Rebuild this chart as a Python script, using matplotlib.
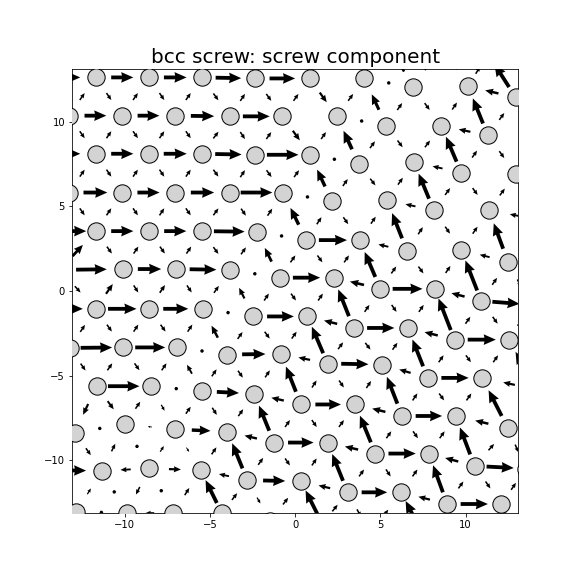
import numpy as np
import matplotlib.pyplot as plt

# Atom rows from top to bottom (row 0 sits above the frame).
# Rows 1, 3, 5 ... start half a spacing further left, so their index 0 atom is outside the frame.
atom_x = [
    [-13.29, -10.18, -7.06, -3.82, -0.76, 2.47, 5.47, 8.59, 11.31, 14.41],
    [-14.82, -11.71, -8.59, -5.49, -2.35, 0.84, 4.06, 6.92, 10.14, 12.94],
    [-13.29, -10.16, -7.06, -3.82, -0.75, 2.45, 5.35, 8.57, 11.31, 14.41],
    [-14.82, -11.71, -8.59, -5.49, -2.35, 0.88, 3.72, 6.96, 9.75, 12.94],
    [-13.29, -10.16, -7.06, -3.82, -0.72, 2.16, 5.39, 8.14, 11.37, 14.41],
    [-14.82, -11.71, -8.59, -5.49, -2.25, 0.65, 3.78, 6.57, 9.75, 12.49],
    [-13.82, -10.10, -7.00, -3.82, -0.92, 2.25, 5.00, 8.19, 10.92, 13.82],
    [-14.82, -11.71, -8.59, -5.43, -2.45, 0.72, 3.43, 6.61, 9.35, 12.55],
    [-13.24, -10.10, -6.92, -4.02, -0.84, 1.90, 5.10, 7.78, 10.98, 14.12],
    [-14.82, -11.66, -8.47, -5.49, -2.41, 0.34, 3.53, 6.28, 9.41, 12.49],
    [-12.94, -10.00, -7.06, -3.98, -1.24, 1.90, 4.71, 7.84, 10.53, 13.53],
    [-14.41, -11.34, -8.57, -5.55, -2.81, 0.34, 3.08, 6.22, 8.92, 12.10],
    [-12.85, -9.90, -7.15, -4.31, -1.47, 1.59, 4.41, 7.47, 10.29, 13.24],
]
atom_y = [
    [14.88, 14.88, 14.88, 14.88, 14.88, 14.76, 14.59, 14.47, 14.00, 13.70],
    [12.61, 12.61, 12.61, 12.61, 12.55, 12.55, 12.55, 12.02, 12.08, 11.43],
    [10.35, 10.35, 10.35, 10.31, 10.31, 10.31, 9.76, 9.76, 9.18, 9.00],
    [8.10, 8.10, 8.10, 8.10, 8.04, 8.04, 7.51, 7.61, 6.98, 6.92],
    [5.81, 5.81, 5.81, 5.81, 5.81, 5.29, 5.35, 4.76, 4.76, 4.18],
    [3.53, 3.53, 3.53, 3.53, 3.49, 3.00, 3.00, 2.35, 2.41, 1.72],
    [1.24, 1.29, 1.29, 1.24, 0.78, 0.78, 0.12, 0.12, -0.59, -0.82],
    [-1.06, -1.06, -1.06, -1.06, -1.51, -1.51, -2.19, -2.19, -2.88, -2.88],
    [-3.37, -3.34, -3.34, -3.76, -3.72, -4.29, -4.35, -5.14, -5.14, -5.82],
    [-5.63, -5.63, -5.63, -5.92, -6.08, -6.71, -6.71, -7.39, -7.39, -8.12],
    [-8.37, -7.88, -8.18, -8.31, -8.96, -8.96, -9.61, -9.61, -10.34, -10.50],
    [-10.59, -10.63, -10.49, -10.59, -11.18, -11.25, -11.90, -11.90, -12.59, -12.59],
    [-13.05, -13.12, -13.12, -13.12, -13.59, -13.76, -14.35, -14.35, -14.94, -14.94],
]

# arrow length along each bond inside a row (positive = pointing right)
horiz = [
    [0, 0, 0, 0, 0, 0, 0, 0, 0],
    [1.3, 1.3, 1.33, 1.5, 1.5, 0, -0.15, 0, -0.8],
    [1.28, 1.28, 1.37, 1.57, 0, -0.15, 0, -0.7, 0],
    [1.3, 1.3, 1.35, 1.55, 1.85, -0.15, 0, -0.6, 0],
    [1.4, 1.3, 1.37, 1.86, -0.15, 0, -0.6, 0, -0.6],
    [2.0, 1.3, 1.3, 1.8, -0.15, 1.65, -0.6, 0, -0.6],
    [1.8, 1.37, 1.57, -0.15, 1.6, -0.85, 1.75, -0.8, 1.6],
    [1.6, 1.67, 1.47, -0.1, 1.57, -0.8, 1.6, -0.8, 1.65],
    [1.85, 1.76, -0.1, 1.37, -0.7, 1.6, -0.7, 1.6, -0.7],
    [0, 1.85, -0.1, 1.3, -0.75, 1.5, -0.8, 1.55, -0.8],
    [0.1, -0.25, 1.1, -0.75, 1.5, -0.8, 1.6, -0.8, 1.6],
    [1.2, -0.6, 0.7, -0.6, 1.3, -0.7, 1.5, -0.7, 1.6],
    [0.1, -0.5, 0, -0.6, 1.3, -0.7, 1.5, -0.7, 1.6],
]

# bonds from each atom to the row below (positive = pointing to the upper atom)
# slash: to the lower-left neighbour, back: to the lower-right neighbour
slash = [
    [0.5, 0.5, 0.5, 0.5, 0.5, 0.5, 0.5, 0.5, 0.5, 0.5],
    [0, 0.5, 0.5, 0.5, 0.5, 0.5, 0.5, 0.5, 0.5, 0.5],
    [0.5, 0.5, 0.5, 0.5, 0.5, 0.5, 0.5, 0.5, 0.5, 0.5],
    [0, 0.5, 0.5, 0.5, 0.5, 0.5, 0.5, 0.5, 0.5, 0.5],
    [0.5, 0.5, 0.5, 0.5, 0.5, 0.5, 0.5, 0.5, 0.5, 0.5],
    [0, 0.9, 0.5, 0.5, 0.5, 0.5, 0.5, 0.5, 0.5, 0.5],
    [0.5, 0.7, 0.55, 0.5, 0.5, 0.5, 0.5, 0.5, 0.5, 0.5],
    [0, 0.5, 0.5, 0.5, 0.5, 0.5, 0.5, 0.5, 0.5, 0.5],
    [0, 0.5, 0.5, 0.5, 0.5, 0.5, 0.5, 0.5, 0.5, 0.5],
    [0, -0.7, 0.5, 0.5, 0.5, 0.5, 0.5, 0.5, 0.5, 0.5],
    [0, 0.5, 0.4, 0.5, 0.5, 0.5, 0.5, 0.5, 0.5, 0.5],
    [0, 0.4, -0.5, 0.5, 0.5, 0.5, 0.5, 0.5, 0.5, 0.5],
]
back = [
    [-0.5, -0.5, -0.5, -0.5, -0.5, -0.5, 0.8, -0.5, 1.6, 0],
    [-0.5, -0.5, -0.5, -0.5, -0.5, -0.7, 1.0, -0.5, 1.6, -0.5],
    [-0.5, -0.5, -0.5, -0.5, -0.7, 1.2, -0.5, 1.6, -0.5, 0],
    [-0.5, -0.5, -0.5, -0.5, -0.5, 1.1, -0.5, 1.6, -0.5, 1.6],
    [-0.5, -0.5, -0.5, -0.5, 1.1, -0.5, 1.6, -0.5, 1.6, 0],
    [-0.5, -0.5, -0.5, -0.5, 0.9, -0.5, 1.6, -0.5, 1.9, -0.5],
    [-0.5, -0.5, -0.5, 0.7, -0.5, 1.7, -0.5, 2.0, -0.5, 0],
    [-0.5, -0.5, -0.5, 0.8, -0.5, 1.7, -0.5, 1.7, -0.5, 1.7],
    [-0.5, -0.5, 0.6, -0.5, 1.6, -0.5, 1.7, -0.5, 1.7, 0],
    [0, -0.6, -0.4, -0.5, 1.6, -0.5, 1.7, -0.5, 1.7, -0.5],
    [-0.5, 0.1, -0.3, 1.6, -0.5, 1.7, -0.5, 1.7, -0.5, 0],
    [0, 0.1, 0.1, 1.5, -0.4, 1.6, -0.5, 1.6, -0.5, 1.6],
]

ax_x, ax_y, ax_u, ax_v = [], [], [], []


def add_arrow(x1, y1, x2, y2, m):
    # arrow of length m centred on the bond, pointing from atom 1 to atom 2
    if m == 0:
        return
    dx, dy = x2 - x1, y2 - y1
    d = np.hypot(dx, dy)
    ax_x.append((x1 + x2) / 2)
    ax_y.append((y1 + y2) / 2)
    ax_u.append(m * dx / d)
    ax_v.append(m * dy / d)


for r in range(len(atom_x)):
    X, Y = atom_x[r], atom_y[r]
    for k in range(len(X) - 1):
        add_arrow(X[k], Y[k], X[k + 1], Y[k + 1], horiz[r][k])
    if r + 1 >= len(atom_x):
        continue
    Xl, Yl = atom_x[r + 1], atom_y[r + 1]
    for k in range(len(X)):
        if r % 2 == 1:
            left, right = k - 1, k
        else:
            left, right = k, k + 1
        if 0 <= left < len(Xl):
            add_arrow(Xl[left], Yl[left], X[k], Y[k], slash[r][k])
        if 0 <= right < len(Xl):
            add_arrow(Xl[right], Yl[right], X[k], Y[k], back[r][k])

fig = plt.figure(figsize=(8, 8), dpi=72)
ax = fig.add_subplot(111)

ax.quiver(ax_x, ax_y, ax_u, ax_v, angles='xy', scale_units='xy', scale=1,
          pivot='middle', width=0.0085, headwidth=2.8, headlength=3.2,
          headaxislength=3.0, minshaft=1.7, color='black', zorder=2)

ax.scatter(np.ravel(atom_x), np.ravel(atom_y), s=300, c='lightgray',
           edgecolors='black', linewidths=1, zorder=3)

ax.set_xlim(-13.1, 13.1)
ax.set_ylim(-13.1, 13.1)
ax.set_title('bcc screw: screw component', fontsize=20)

fig.savefig('out.png', dpi=72)
